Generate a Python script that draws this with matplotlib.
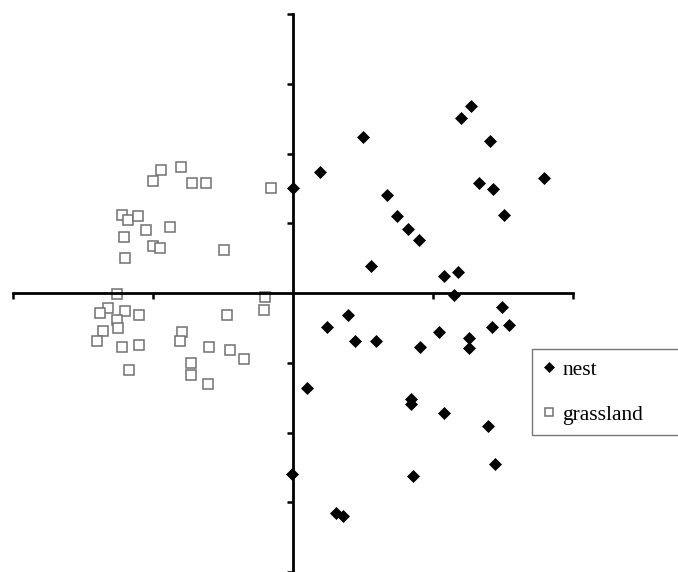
import matplotlib
matplotlib.use("Agg")
import matplotlib.pyplot as plt

# Ordination scores for the two habitat groups
nest_x = [0.00, 0.19, 0.50, 1.20, 1.27, 1.41, 1.33, 1.43, 1.79, 0.67,
          0.74, 0.82, 0.90, 1.51, 0.56, 1.08, 1.18, 1.15, 1.49, 0.39,
          0.24, 0.44, 0.59, 1.04, 0.91, 1.26, 1.26, 1.42, 1.54, 0.10,
          0.84, 0.84, 1.08, 1.39, 1.44, 0.86, -0.01, 0.31, 0.36]
nest_y = [1.50, 1.73, 2.24, 2.51, 2.68, 2.18, 1.57, 1.49, 1.65, 1.40,
          1.11, 0.92, 0.76, 1.12, 0.39, 0.25, 0.30, -0.03, -0.20, -0.31,
          -0.49, -0.69, -0.69, -0.56, -0.77, -0.65, -0.79, -0.49, -0.46, -1.36,
          -1.52, -1.59, -1.72, -1.90, -2.45, -2.62, -2.59, -3.15, -3.19]

grass_x = [-0.94, -0.80, -1.00, -0.72, -0.62, -0.16, -1.22, -1.18, -1.11, -1.05,
           -0.88, -1.21, -1.00, -0.95, -0.49, -1.20, -1.26, -0.20, -1.32, -1.38,
           -1.20, -1.10, -1.26, -0.47, -0.21, -1.36, -1.25, -1.40, -0.79, -0.81,
           -1.22, -1.10, -0.60, -0.45, -0.35, -0.73, -0.73, -1.17, -0.61]
grass_y = [1.77, 1.80, 1.60, 1.58, 1.58, 1.51, 1.12, 1.04, 1.10, 0.90,
           0.95, 0.81, 0.68, 0.64, 0.61, 0.50, -0.01, -0.06, -0.22, -0.29,
           -0.26, -0.32, -0.38, -0.32, -0.24, -0.54, -0.50, -0.69, -0.56, -0.69,
           -0.77, -0.74, -0.77, -0.82, -0.94, -1.01, -1.17, -1.11, -1.31]

series_labels = ["nest", "grassland"]
x_ticks = [-2, -1, 1, 2]
y_ticks = [-4, -3, -2, -1, 1, 2, 3, 4]

W, H = 678, 572
fig = plt.figure(figsize=(W / 100, H / 100), dpi=100)
ax = fig.add_axes([13 / W, 0, 560 / W, 558 / H])
ax.set_xlim(-2, 2)
ax.set_ylim(4 - 558 / 70, 4)

for s in ("top", "right"):
    ax.spines[s].set_visible(False)
for s in ("left", "bottom"):
    ax.spines[s].set_position(("data", 0))
    ax.spines[s].set_linewidth(2.0)
    ax.spines[s].set_color("black")

ax.set_xticks(x_ticks)
ax.set_yticks(y_ticks)
ax.set_xticklabels([])
ax.set_yticklabels([])
ax.tick_params(direction="out", length=4, width=1.8, color="black")

nest_h, = ax.plot(nest_x, nest_y, linestyle="none", marker="D", ms=6.5,
                  mfc="black", mec="black", mew=0.5, label=series_labels[0])
grass_h, = ax.plot(grass_x, grass_y, linestyle="none", marker="s", ms=6.5,
                   mfc="white", mec="#707070", mew=1.1, label=series_labels[1])

# Legend box anchored in pixel space, running off the right edge
x0, y_top = 532 / W, 1 - 349 / H
leg = fig.legend(handles=[nest_h, grass_h], labels=series_labels,
                 loc="upper left", bbox_to_anchor=(x0, y_top - 0.2, 200 / W, 0.2),
                 mode="expand", bbox_transform=fig.transFigure,
                 prop={"family": "Liberation Serif", "size": 15.5},
                 frameon=True, fancybox=False, edgecolor="#555555",
                 markerscale=0.8, handlelength=0.6, handletextpad=0.3,
                 labelspacing=1.15, borderpad=0.5, borderaxespad=0)
leg.get_frame().set_linewidth(1.0)

fig.savefig("out.png", dpi=100)
